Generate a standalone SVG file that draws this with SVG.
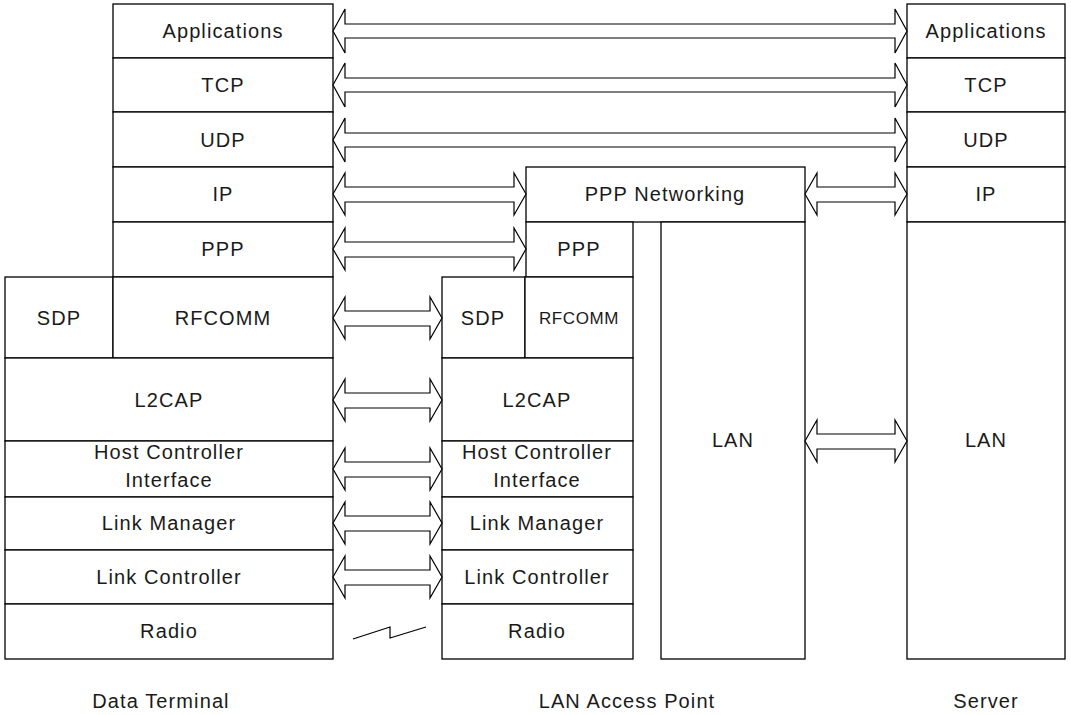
<svg xmlns="http://www.w3.org/2000/svg" width="1071" height="715" viewBox="0 0 1071 715">
<style>
.r{fill:#fff;stroke:#000;stroke-width:1.3}
.a{fill:#fff;stroke:#000;stroke-width:1.2;stroke-linejoin:miter}
.z{fill:none;stroke:#000;stroke-width:1.2}
text{font-family:"Liberation Sans",Arial,sans-serif;font-size:20px;fill:#1a1a1a;text-anchor:middle;letter-spacing:1.1px}
.s{font-size:17px;letter-spacing:0.6px}
</style>
<rect width="1071" height="715" fill="#fff"/>
<g id="data-terminal">
<rect class="r" x="113" y="4" width="220" height="54"/><text x="223" y="38">Applications</text>
<rect class="r" x="113" y="58" width="220" height="54"/><text x="223" y="92">TCP</text>
<rect class="r" x="113" y="112" width="220" height="55"/><text x="223" y="147">UDP</text>
<rect class="r" x="113" y="167" width="220" height="55"/><text x="223" y="201">IP</text>
<rect class="r" x="113" y="222" width="220" height="55"/><text x="223" y="256">PPP</text>
<rect class="r" x="5" y="277" width="108" height="81"/><text x="59" y="325">SDP</text>
<rect class="r" x="113" y="277" width="220" height="81"/><text x="223" y="325">RFCOMM</text>
<rect class="r" x="5" y="358" width="328" height="83"/><text x="169" y="407">L2CAP</text>
<rect class="r" x="5" y="441" width="328" height="56"/><text x="169" y="459">Host Controller</text><text x="169" y="487">Interface</text>
<rect class="r" x="5" y="497" width="328" height="53"/><text x="169" y="530">Link Manager</text>
<rect class="r" x="5" y="550" width="328" height="54"/><text x="169" y="584">Link Controller</text>
<rect class="r" x="5" y="604" width="328" height="55"/><text x="169" y="638">Radio</text>
<text x="161" y="708">Data Terminal</text>
</g>
<g id="lan-access-point">
<rect class="r" x="526" y="167" width="279" height="55"/><text x="665" y="201">PPP Networking</text>
<rect class="r" x="526" y="222" width="107" height="55"/><text x="579" y="256">PPP</text>
<rect class="r" x="442" y="277" width="83" height="81"/><text x="483" y="325">SDP</text>
<rect class="r" x="525" y="277" width="108" height="81"/><text class="s" x="579" y="324">RFCOMM</text>
<rect class="r" x="442" y="358" width="191" height="83"/><text x="537" y="407">L2CAP</text>
<rect class="r" x="442" y="441" width="191" height="56"/><text x="537" y="459">Host Controller</text><text x="537" y="487">Interface</text>
<rect class="r" x="442" y="497" width="191" height="53"/><text x="537" y="530">Link Manager</text>
<rect class="r" x="442" y="550" width="191" height="54"/><text x="537" y="584">Link Controller</text>
<rect class="r" x="442" y="604" width="191" height="55"/><text x="537" y="638">Radio</text>
<rect class="r" x="661" y="222" width="144" height="437"/><text x="733" y="447">LAN</text>
<text x="627" y="708">LAN Access Point</text>
</g>
<g id="server">
<rect class="r" x="907" y="4" width="158" height="54"/><text x="986" y="38">Applications</text>
<rect class="r" x="907" y="58" width="158" height="54"/><text x="986" y="92">TCP</text>
<rect class="r" x="907" y="112" width="158" height="55"/><text x="986" y="147">UDP</text>
<rect class="r" x="907" y="167" width="158" height="55"/><text x="986" y="201">IP</text>
<rect class="r" x="907" y="222" width="158" height="437"/><text x="986" y="447">LAN</text>
<text x="986" y="708">Server</text>
</g>
<g id="connectors">
<path class="a" d="M333,31 L345,9 L345,24 L895,24 L895,9 L907,31 L895,53 L895,38 L345,38 L345,53 Z"/>
<path class="a" d="M333,85 L345,63 L345,78 L895,78 L895,63 L907,85 L895,107 L895,92 L345,92 L345,107 Z"/>
<path class="a" d="M333,140 L345,118 L345,133 L895,133 L895,118 L907,140 L895,162 L895,147 L345,147 L345,162 Z"/>
<path class="a" d="M333,194 L345,173 L345,187 L514,187 L514,173 L526,194 L514,215 L514,202 L345,202 L345,215 Z"/>
<path class="a" d="M333,249 L345,228 L345,242 L514,242 L514,228 L526,249 L514,270 L514,257 L345,257 L345,270 Z"/>
<path class="a" d="M805,194 L817,173 L817,187 L895,187 L895,173 L907,194 L895,215 L895,202 L817,202 L817,215 Z"/>
<path class="a" d="M333,318 L345,297 L345,311 L430,311 L430,297 L442,318 L430,339 L430,326 L345,326 L345,339 Z"/>
<path class="a" d="M333,400 L345,379 L345,393 L430,393 L430,379 L442,400 L430,421 L430,408 L345,408 L345,421 Z"/>
<path class="a" d="M333,469 L345,448 L345,462 L430,462 L430,448 L442,469 L430,490 L430,477 L345,477 L345,490 Z"/>
<path class="a" d="M333,523 L345,502 L345,516 L430,516 L430,502 L442,523 L430,544 L430,531 L345,531 L345,544 Z"/>
<path class="a" d="M333,577 L345,556 L345,570 L430,570 L430,556 L442,577 L430,598 L430,585 L345,585 L345,598 Z"/>
<path class="a" d="M805,441 L817,420 L817,434 L895,434 L895,420 L907,441 L895,462 L895,449 L817,449 L817,462 Z"/>
<path class="z" d="M353,639 L390,627 L390,638 L426,627"/>
</g>
</svg>
